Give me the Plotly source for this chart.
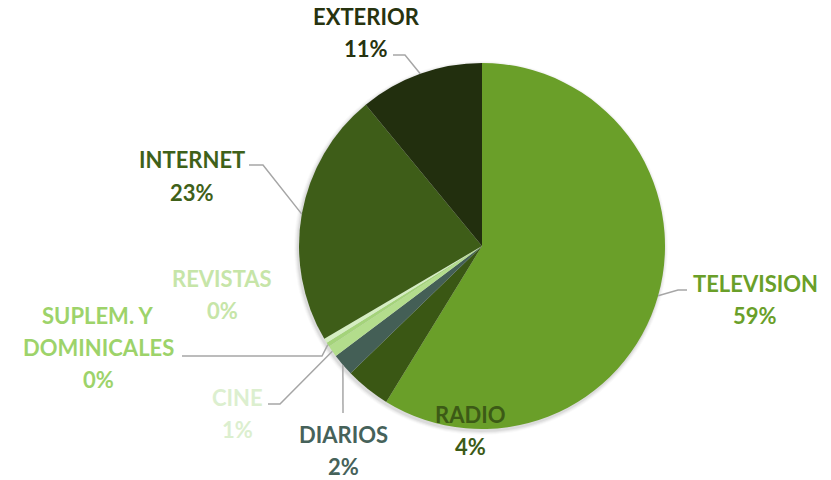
import math
import plotly.graph_objects as go

# Media share data (clockwise from 12 o'clock)
categories = ["TELEVISION", "RADIO", "DIARIOS", "CINE",
              "SUPLEM. Y<br>DOMINICALES", "REVISTAS", "INTERNET", "EXTERIOR"]
values = [59.0, 4.0, 2.0, 1.0, 0.4, 0.4, 22.6, 11.0]

slice_colors = ["#6a9f29", "#3a5714", "#445f56", "#b3dd8c",
                "#a4d37a", "#d5eec2", "#3e5d18", "#222f0e"]
label_colors = ["#6a9f29", "#3c5a16", "#46625a", "#dcefcf",
                "#9dd36a", "#c6e5a8", "#3f6119", "#27330f"]

W, H = 831, 480
CX, CY, R = 482, 246, 183
LINE_H = 32  # label line spacing in px

# centre of each label's first line, and leader-line elbows (None = no line)
label_xy = [(755, 283), (470, 414), (343, 434), (238, 397),
            (98, 315), (222, 278), (192, 160), (366, 17)]
elbows = [[(687, 290), (678, 290)], None, [(343, 413)], [(268, 404), (280, 404)],
          [(182, 356), (322, 356)], None, [(249, 165), (263, 165)], [(393, 55), (405, 55)]]


def px(x, y):
    return x / W, 1 - y / H


total = sum(values)
pct = [round(v / total * 100) for v in values]

fig = go.Figure()
fig.add_trace(go.Pie(
    labels=[c.replace("<br>", " ") for c in categories],
    values=values,
    sort=False,
    direction="clockwise",
    rotation=0,
    marker=dict(colors=slice_colors, line=dict(width=0)),
    textinfo="none",
    hoverinfo="label+percent",
    showlegend=False,
    domain=dict(x=[(CX - R) / W, (CX + R) / W],
                y=[1 - (CY + R) / H, 1 - (CY - R) / H]),
))

shapes = []
# soft shadow around the pie
for i, a in enumerate([0.05, 0.04, 0.03, 0.02]):
    rr = R + 1 + i
    x0, y0 = px(CX - rr - 1, CY - rr + 2)
    x1, y1 = px(CX + rr - 1, CY + rr + 2)
    shapes.append(dict(type="circle", xref="paper", yref="paper",
                       x0=x0, y0=y1, x1=x1, y1=y0, layer="below",
                       fillcolor=f"rgba(0,0,0,{a})", line=dict(width=0)))

annotations = []
cum = 0.0
for cat, v, p, col, (lx, ly), elb in zip(categories, values, pct, label_colors, label_xy, elbows):
    mid = (cum + v / 2) / total * 2 * math.pi
    cum += v
    ax = CX + R * math.sin(mid)
    ay = CY - R * math.cos(mid)
    if elb:
        pts = elb + [(ax, ay)]
        path = "M " + " L ".join(f"{px(x, y)[0]:.5f},{px(x, y)[1]:.5f}" for x, y in pts)
        shapes.append(dict(type="path", xref="paper", yref="paper", path=path,
                           line=dict(color="#a6a6a6", width=1.5), layer="above"))
    lines = cat.split("<br>") + [f"{p}%"]
    for k, t in enumerate(lines):
        x, y = px(lx, ly + k * LINE_H)
        annotations.append(dict(
            x=x, y=y, xref="paper", yref="paper", xanchor="center", yanchor="middle",
            showarrow=False, align="center", borderpad=0,
            text=f"<b>{t}</b>",
            font=dict(family="Lato, Noto Sans, sans-serif", size=22, color=col),
        ))

fig.update_layout(
    width=W, height=H,
    margin=dict(l=0, r=0, t=0, b=0),
    paper_bgcolor="white", plot_bgcolor="white",
    shapes=shapes, annotations=annotations,
)

fig.write_html("out.html")
